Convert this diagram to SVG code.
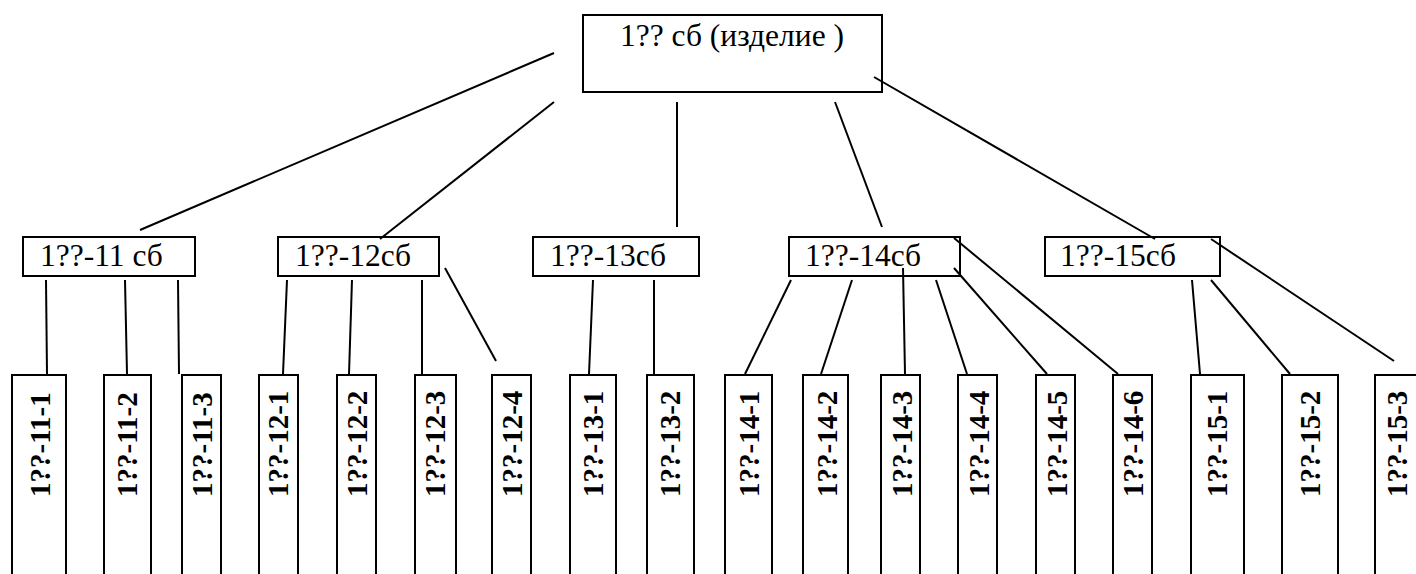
<svg xmlns="http://www.w3.org/2000/svg" width="1416" height="574" viewBox="0 0 1416 574">
<style>
.b{fill:#fff;stroke:#000;stroke-width:2}
.t{font-family:"Liberation Serif","Times New Roman",serif;font-size:31.5px;fill:#000}
.v{font-family:"Liberation Serif","Times New Roman",serif;font-size:29px;font-weight:bold;fill:#000}
#connectors line{stroke:#000;stroke-width:2}
</style>
<rect width="1416" height="574" fill="#fff"/>
<g id="n-root"><rect class="b" x="583" y="15" width="299" height="77"/><text class="t" x="620" y="46">1?? сб (изделие )</text></g>
<g id="n-11"><rect class="b" x="23" y="237" width="172" height="39"/><text class="t" x="40" y="266">1??-11 сб</text></g>
<g id="n-12"><rect class="b" x="278" y="237" width="161" height="39"/><text class="t" x="295" y="266">1??-12сб</text></g>
<g id="n-13"><rect class="b" x="533" y="237" width="166" height="39"/><text class="t" x="550" y="266">1??-13сб</text></g>
<g id="n-14"><rect class="b" x="789" y="237" width="171" height="39"/><text class="t" x="805" y="266">1??-14сб</text></g>
<g id="n-15"><rect class="b" x="1045" y="237" width="175" height="39"/><text class="t" x="1060" y="266">1??-15сб</text></g>
<g id="n-11-1"><rect class="b" x="12" y="375" width="54" height="210"/><text class="v" transform="translate(50,497) rotate(-90)">1??-11-1</text></g>
<g id="n-11-2"><rect class="b" x="104" y="375" width="47" height="210"/><text class="v" transform="translate(137,497) rotate(-90)">1??-11-2</text></g>
<g id="n-11-3"><rect class="b" x="182" y="375" width="39" height="210"/><text class="v" transform="translate(212,497) rotate(-90)">1??-11-3</text></g>
<g id="n-12-1"><rect class="b" x="259" y="375" width="39" height="210"/><text class="v" transform="translate(288,497) rotate(-90)">1??-12-1</text></g>
<g id="n-12-2"><rect class="b" x="337" y="375" width="39" height="210"/><text class="v" transform="translate(367,497) rotate(-90)">1??-12-2</text></g>
<g id="n-12-3"><rect class="b" x="415" y="375" width="41" height="210"/><text class="v" transform="translate(445,497) rotate(-90)">1??-12-3</text></g>
<g id="n-12-4"><rect class="b" x="492" y="375" width="39" height="210"/><text class="v" transform="translate(522,497) rotate(-90)">1??-12-4</text></g>
<g id="n-13-1"><rect class="b" x="570" y="375" width="46" height="210"/><text class="v" transform="translate(603,497) rotate(-90)">1??-13-1</text></g>
<g id="n-13-2"><rect class="b" x="647" y="375" width="47" height="210"/><text class="v" transform="translate(680,497) rotate(-90)">1??-13-2</text></g>
<g id="n-14-1"><rect class="b" x="725" y="375" width="47" height="210"/><text class="v" transform="translate(759,497) rotate(-90)">1??-14-1</text></g>
<g id="n-14-2"><rect class="b" x="803" y="375" width="45" height="210"/><text class="v" transform="translate(837,497) rotate(-90)">1??-14-2</text></g>
<g id="n-14-3"><rect class="b" x="881" y="375" width="39" height="210"/><text class="v" transform="translate(912,497) rotate(-90)">1??-14-3</text></g>
<g id="n-14-4"><rect class="b" x="958" y="375" width="39" height="210"/><text class="v" transform="translate(989,497) rotate(-90)">1??-14-4</text></g>
<g id="n-14-5"><rect class="b" x="1036" y="375" width="39" height="210"/><text class="v" transform="translate(1067,497) rotate(-90)">1??-14-5</text></g>
<g id="n-14-6"><rect class="b" x="1113" y="375" width="39" height="210"/><text class="v" transform="translate(1143,497) rotate(-90)">1??-14-6</text></g>
<g id="n-15-1"><rect class="b" x="1191" y="375" width="53" height="210"/><text class="v" transform="translate(1227,497) rotate(-90)">1??-15-1</text></g>
<g id="n-15-2"><rect class="b" x="1282" y="375" width="56" height="210"/><text class="v" transform="translate(1320,497) rotate(-90)">1??-15-2</text></g>
<g id="n-15-3"><rect class="b" x="1375" y="375" width="50" height="210"/><text class="v" transform="translate(1407,497) rotate(-90)">1??-15-3</text></g>
<g id="connectors">
<line x1="554" y1="53" x2="140" y2="230"/>
<line x1="554" y1="102" x2="380" y2="239"/>
<line x1="677" y1="102" x2="677" y2="227"/>
<line x1="835" y1="102" x2="882" y2="227"/>
<line x1="874" y1="77" x2="1155" y2="239"/>
<line x1="46" y1="280" x2="47" y2="374"/>
<line x1="125" y1="280" x2="127" y2="374"/>
<line x1="178" y1="280" x2="179" y2="374"/>
<line x1="287" y1="280" x2="283" y2="374"/>
<line x1="352" y1="280" x2="349" y2="374"/>
<line x1="422" y1="280" x2="422" y2="374"/>
<line x1="445" y1="268" x2="496" y2="361"/>
<line x1="593" y1="280" x2="589" y2="374"/>
<line x1="654" y1="280" x2="654" y2="374"/>
<line x1="791" y1="280" x2="745" y2="374"/>
<line x1="852" y1="280" x2="821" y2="374"/>
<line x1="903" y1="268" x2="905" y2="374"/>
<line x1="936" y1="280" x2="967" y2="374"/>
<line x1="954" y1="268" x2="1047" y2="374"/>
<line x1="954" y1="238" x2="1118" y2="374"/>
<line x1="1192" y1="280" x2="1200" y2="374"/>
<line x1="1211" y1="280" x2="1290" y2="374"/>
<line x1="1211" y1="239" x2="1394" y2="361"/>
</g>
</svg>
